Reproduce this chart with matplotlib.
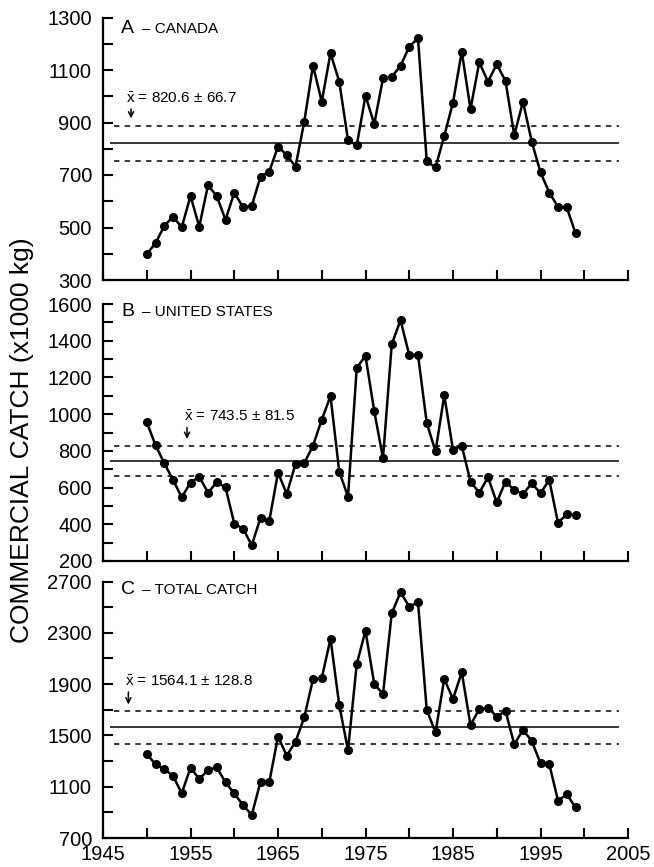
import matplotlib
matplotlib.use("Agg")
import matplotlib.pyplot as plt
import numpy as np

plt.rcParams['font.family'] = ['Liberation Sans', 'DejaVu Sans']
plt.rcParams['mathtext.fontset'] = 'custom'
plt.rcParams['mathtext.rm'] = 'Liberation Sans'

years = list(range(1950, 2000))

canada = [399, 440, 506, 541, 501, 620, 503, 661, 620, 529,
          633, 577, 582, 694, 713, 808, 776, 732, 903, 1117,
          979, 1164, 1056, 833, 813, 1002, 894, 1068, 1075, 1115,
          1189, 1221, 752, 729, 849, 976, 1170, 951, 1129, 1056,
          1122, 1058, 852, 979, 827, 710, 633, 579, 577, 478]

united_states = [957, 831, 733, 642, 547, 627, 660, 572, 629, 601,
                 404, 377, 286, 435, 417, 682, 565, 729, 733, 828,
                 970, 1098, 687, 550, 1253, 1317, 1016, 760, 1381, 1512,
                 1322, 1322, 952, 797, 1102, 806, 828, 633, 572, 656,
                 519, 633, 587, 565, 623, 569, 642, 408, 454, 450]

total_catch = [1355, 1275, 1238, 1184, 1048, 1249, 1160, 1230, 1251, 1134,
               1048, 957, 879, 1139, 1134, 1490, 1342, 1451, 1641, 1938,
               1945, 2254, 1737, 1384, 2057, 2315, 1901, 1823, 2452, 2616,
               2504, 2538, 1698, 1524, 1940, 1784, 1992, 1581, 1704, 1717,
               1646, 1691, 1431, 1542, 1457, 1282, 1277, 991, 1041, 939]

means = [820.6, 743.5, 1564.1]
sds = [66.7, 81.5, 128.8]
panel_letters = ["A", "B", "C"]
panel_names = ["CANADA", "UNITED STATES", "TOTAL CATCH"]
series = [canada, united_states, total_catch]

yticks_major = [list(range(300, 1301, 200)),
                list(range(200, 1601, 200)),
                list(range(700, 2701, 400))]
yticks_minor = [list(range(300, 1301, 100)),
                list(range(200, 1601, 100)),
                list(range(700, 2701, 200))]
xticks_major = list(range(1945, 2006, 10))
xticks_minor = list(range(1945, 2006, 5))

fig = plt.figure(figsize=(6.54, 8.67), dpi=100)
W, H = 654, 867
left, right = 103 / W, 628 / W
rects = [(17.5, 280), (304, 561), (581.5, 838)]

# annotation layout (data coords): text x, text y, arrow x, arrow top, arrow bottom
ann = [(1947.6, 975, 1948.2, 962, 905),
       (1954.2, 961, 1954.6, 942, 850),
       (1947.5, 1885, 1947.9, 1860, 1720)]
title_y = [0.94, 0.955, 0.95]

for i in range(3):
    top, bot = rects[i]
    ax = fig.add_axes([left, 1 - bot / H, right - left, (bot - top) / H])
    ax.plot(years, series[i], color='black', lw=1.8, marker='o', ms=5.5,
            markerfacecolor='black', markeredgecolor='black')
    m, s = means[i], sds[i]
    ax.hlines(m, 1945.8, 2004, color='black', lw=1.1)
    ax.hlines([m + s, m - s], 1946.2, 2004, color='black', lw=1.1,
              linestyles=(0, (3.5, 3.5)))
    ax.set_xlim(1945, 2005)
    ax.set_ylim(yticks_major[i][0], yticks_major[i][-1])
    ax.set_yticks(yticks_major[i])
    ax.set_yticks(yticks_minor[i], minor=True)
    ax.set_xticks(xticks_major)
    ax.set_xticks(xticks_minor, minor=True)
    for sp in ['top', 'right']:
        ax.spines[sp].set_visible(False)
    for sp in ['left', 'bottom']:
        ax.spines[sp].set_linewidth(1.6)
    ax.tick_params(axis='both', which='both', direction='in', width=1.5,
                   length=7, labelsize=14.5, pad=8)
    if i < 2:
        ax.tick_params(axis='x', labelbottom=False)
    else:
        ax.tick_params(axis='x', pad=5)

    tx, ty, axx, a_top, a_bot = ann[i]
    ax.text(tx, ty, r'$\bar{\mathrm{x}}$' + f' = {m} \u00b1 {s}', fontsize=11,
            ha='left', va='baseline')
    ax.annotate('', xy=(axx, a_bot), xytext=(axx, a_top),
                arrowprops=dict(arrowstyle='->', color='black', lw=1.1,
                                mutation_scale=9))
    ax.text(0.035, title_y[i], panel_letters[i], transform=ax.transAxes,
            fontsize=14, ha='left', va='baseline')
    ax.text(0.074, title_y[i], '\u2013 ' + panel_names[i], transform=ax.transAxes,
            fontsize=11, ha='left', va='baseline')

fig.text(22 / W, 1 - 440 / H, 'COMMERCIAL CATCH (x1000 kg)', rotation=90,
         fontsize=19, ha='center', va='center')

fig.savefig('out.png', dpi=100)
